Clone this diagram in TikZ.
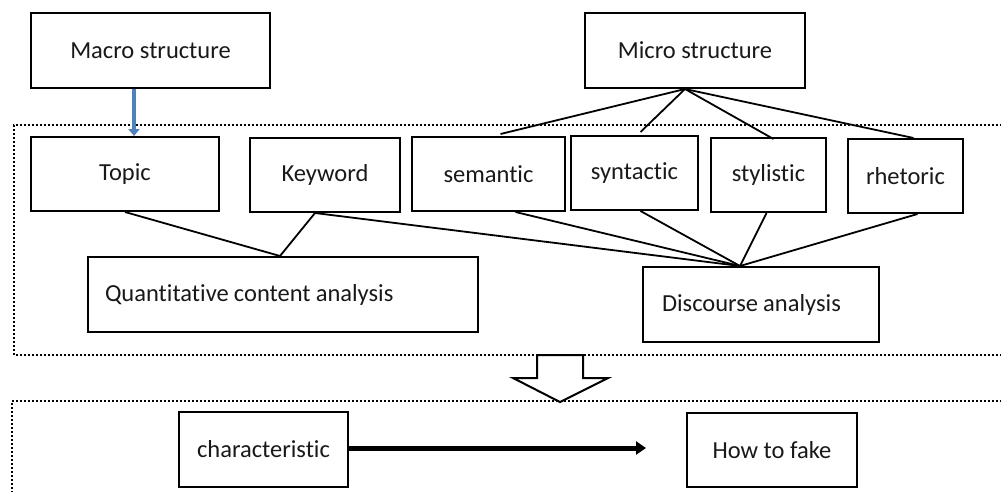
\documentclass[tikz,border=0pt]{standalone}
\usepackage{fontspec}
\setmainfont{Carlito}[Ligatures={NoCommon}]
\usetikzlibrary{calc,arrows.meta}
\definecolor{officeblue}{RGB}{79,129,189}
\definecolor{txt}{RGB}{25,25,25}
\newcommand\tightwords{\spaceskip=0.21em\relax}
\tikzset{
  box/.style={draw=black, line width=2pt, rectangle, inner sep=0pt, font=\fontsize{24.5}{28}\selectfont, text=txt},
  lbox/.style={box, align=left},
  conn/.style={line width=1.8pt, black},
  region/.style={line width=2pt, dash pattern=on 2pt off 2pt},
}
\begin{document}
\begin{tikzpicture}[x=1pt,y=-1pt]
\clip (0,0) rectangle (1001,491);
\fill[white] (0,0) rectangle (1001,491);
% dotted regions
\draw[region] (1010,125) -- (14,125) -- (14,355) -- (1010,355);
\draw[region] (1010,401) -- (12,401) -- (12,500);
% nodes
\node[box, minimum width=239, minimum height=75] (macro) at (150.5,50.5) {Macro structure};
\node[box, minimum width=220, minimum height=75] (micro) at (695,50.5) {Micro structure};
\node[box, minimum width=188, minimum height=74] (topic) at (125,174) {Topic};
\node[box, minimum width=150, minimum height=74] (keyword) at (325,175) {Keyword};
\node[box, minimum width=153, minimum height=74] (semantic) at (488.5,174) {semantic};
\node[box, minimum width=127, minimum height=74] (syntactic) at (634.5,173) {syntactic};
\node[box, minimum width=115, minimum height=74] (stylistic) at (768.5,175) {stylistic};
\node[box, minimum width=115, minimum height=74] (rhetoric) at (905.5,176) {rhetoric};
\node[lbox, minimum height=75, inner xsep=17pt, text width=356pt] (quant) at (283,294.5) {\tightwords Quantitative content analysis};
\node[lbox, minimum height=75, inner xsep=19pt, text width=198pt] (disc) at (761,304.5) {\tightwords Discourse analysis};
\node[box, minimum width=169, minimum height=75] (char) at (263.5,449.5) {characteristic};
\node[box, minimum width=170, minimum height=74] (fake) at (772,450) {How to fake};
% hubs
\coordinate (qj) at (280,256);
\coordinate (mh) at ($(micro.south)+(-10,0)$);
\coordinate (dh) at (740,266);
\coordinate (kb) at ($(keyword.south)+(-10,0)$);
% blue arrow
\draw[line width=4pt, officeblue, -{Triangle[length=7pt,width=11pt]}] ($(macro.south)+(-16.5,0)$) -- ($(topic.north)+(9,0)$);
% connectors to quant
\draw[conn] (topic.south) -- (qj) -- (kb);
% micro fan
\draw[conn] (mh) -- ($(semantic.north)+(12,-2)$);
\draw[conn] (mh) -- ($(syntactic.north)+(6,-3)$);
\draw[conn] (mh) -- ($(stylistic.north)+(5,2)$);
\draw[conn] (mh) -- ($(rhetoric.north)+(8,0)$);
% discourse fan
\draw[conn] (kb) -- (dh);
\draw[conn] ($(semantic.south)+(27,0)$) -- (dh);
\draw[conn] ($(syntactic.south)+(6,0)$) -- (dh);
\draw[conn] ($(stylistic.south)+(-2,0)$) -- (dh);
\draw[conn] ($(rhetoric.south)+(12,0)$) -- (dh);
% hollow arrow
\draw[line width=2pt, fill=white] (537,355) -- (583,355) -- (583,378) -- (608,378) -- (560,402) -- (513,378) -- (537,378) -- cycle;
% thick arrow
\coordinate (ta) at (646,448);
\draw[line width=5pt, -{Triangle[length=10pt,width=13pt]}] (char.east |- ta) -- (ta);
\end{tikzpicture}
\end{document}
